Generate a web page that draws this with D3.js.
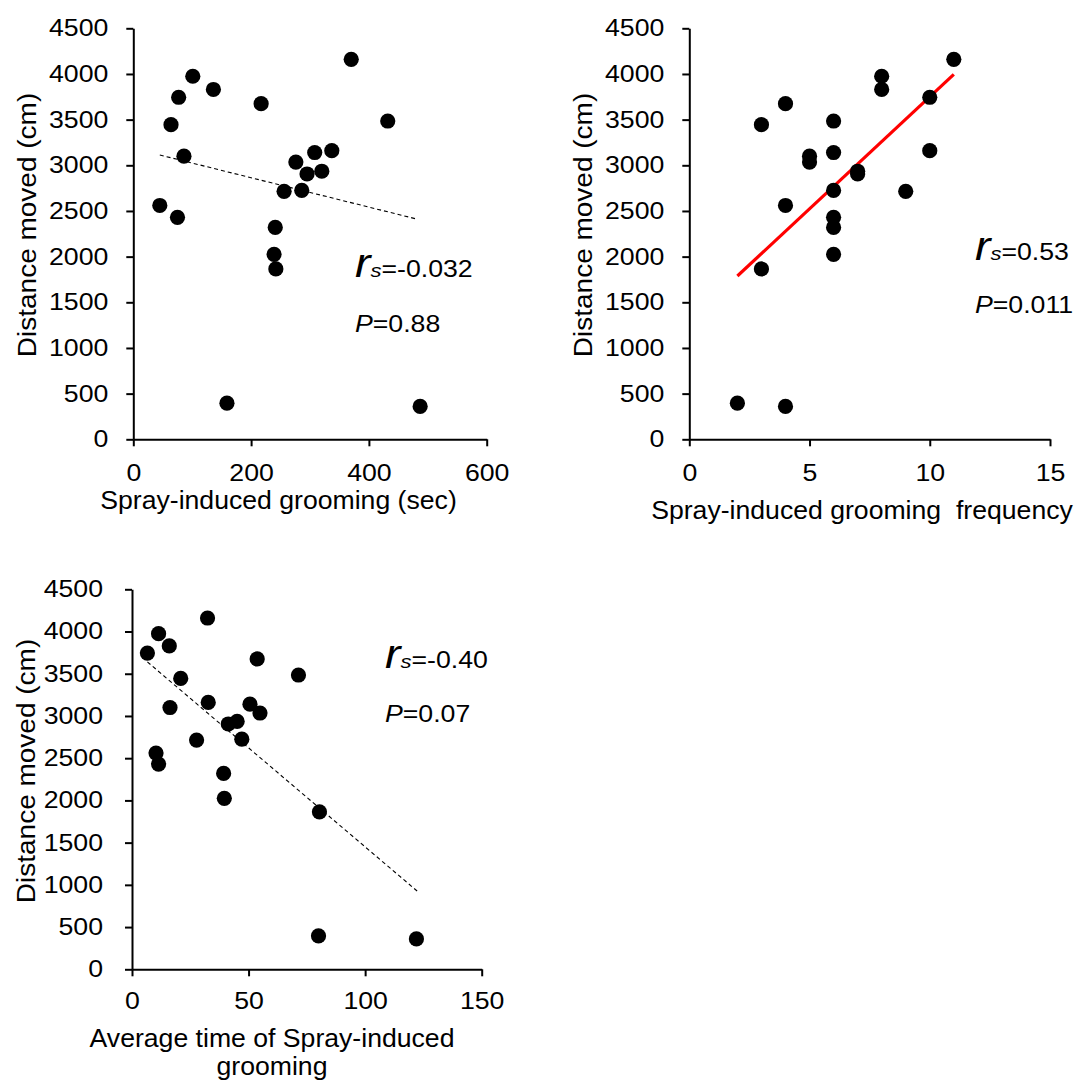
<!DOCTYPE html>
<html><head><meta charset="utf-8">
<script src="https://cdn.jsdelivr.net/npm/d3@7"></script>
<style>
body{margin:0;background:#fff}
svg{display:block}
text{font-family:"Liberation Sans",Arial,Helvetica,sans-serif;fill:#000}
</style>
</head><body>
<svg id="chart" width="1077" height="1083"></svg>
<script>
// ---- data ----
const distanceMoved   = [4160,3975,3830,3745,3675,3445,3485,3100,3160,3140,3035,2935,2905,2715,2725,2560,2430,2320,2025,1865,395,360];
const groomingSec     = [370,101,136,77,217,64,432,86,337,308,276,320,295,256,286,45,75,241,239,242,159,487];
const groomingFreq    = [11,8,8,10,4,3,6,5,10,6,5,7,7,9,6,4,6,6,6,3,2,4];
const avgGroomingTime = [32.4,11.4,16,6.6,53.7,20.9,71.4,16.3,32.7,50.6,54.9,45.1,41.3,27.7,47.1,10.3,11.4,39.3,39.6,80.4,80,122];

const yTicks  = [0,500,1000,1500,2000,2500,3000,3500,4000,4500];
const xTicks1 = [0,200,400,600];
const xTicks2 = [0,5,10,15];
const xTicks3 = [0,50,100,150];

const trend1X = [45,481],  trend1Y = [3113,2412];
const trend2X = [2,11],    trend2Y = [1788,3996];
const trend3X = [6.6,122.3], trend3Y = [3640,927];

const yTitle = "Distance moved (cm)";
const xTitles = [["Spray-induced grooming (sec)"],["Spray-induced grooming\u00a0 frequency"],["Average time of Spray-induced","grooming"]];
const rsLabels = ["=-0.032","=0.53","=-0.40"];
const pLabels  = ["=0.88","=0.011","=0.07"];

// ---- layout ----
const SX = 1.16;      // horizontal text stretch seen in the reference
const XTSX = 1.065;
const YTSX = 1.12;
const panels = [
  {xs:groomingSec, xt:xTicks1, tx:trend1X, ty:trend1Y, dash:true,  color:"#000", L:133.3, R:486.7, T:28.3, B:439.3,
   titleX:278.5, titleY:[509], yTitleX:36, yTitleY:225, annX:355, rsY:276.7, pY:331.7, tickFs:23, yPad:25, xPad:18},
  {xs:groomingFreq, xt:xTicks2, tx:trend2X, ty:trend2Y, dash:false, color:"#ff0000", L:689.3, R:1050, T:28.3, B:439.3,
   titleX:862, titleY:[519], yTitleX:592, yTitleY:225, annX:975, rsY:260, pY:312.5, tickFs:23, yPad:25, xPad:18},
  {xs:avgGroomingTime, xt:xTicks3, tx:trend3X, ty:trend3Y, dash:true, color:"#000", L:132, R:481.7, T:589.3, B:969.3,
   titleX:272, titleY:[1047,1075], yTitleX:35, yTitleY:771, annX:385, rsY:668.3, pY:721.7, tickFs:23, yPad:29, xPad:16}
];

const svg = d3.select("#chart");
const fmt = d3.format("d");

panels.forEach((p,i)=>{
  const g = svg.append("g");
  const x = d3.scaleLinear().domain([0, d3.max(p.xt)]).range([p.L, p.R]);
  const y = d3.scaleLinear().domain([0, 4500]).range([p.B, p.T]);

  const xa = g.append("g").attr("transform",`translate(0,${p.B})`)
    .call(d3.axisBottom(x).tickValues(p.xt).tickFormat(fmt).tickSize(7).tickSizeOuter(0).tickPadding(p.xPad));
  const ya = g.append("g").attr("transform",`translate(${p.L},0)`)
    .call(d3.axisLeft(y).tickValues(yTicks).tickFormat(fmt).tickSize(7).tickSizeOuter(0));

  [xa,ya].forEach(a=>{
    a.select(".domain").attr("stroke","#000").attr("stroke-width",2);
    a.selectAll(".tick line").attr("stroke","#000").attr("stroke-width",2);
    a.selectAll("text").attr("font-size",p.tickFs).attr("font-family",null).attr("fill","#000");
  });
  xa.selectAll("text").attr("transform",`scale(${SX},1)`);
  ya.selectAll("text").attr("x",-p.yPad/SX).attr("transform",`scale(${SX},1)`);

  // trend line
  g.append("line")
    .attr("x1",x(p.tx[0])).attr("y1",y(p.ty[0]))
    .attr("x2",x(p.tx[1])).attr("y2",y(p.ty[1]))
    .attr("stroke",p.color)
    .attr("stroke-width",p.dash?1.1:3.2)
    .attr("stroke-dasharray",p.dash?"4,3":null);

  // points
  g.selectAll("circle").data(distanceMoved).join("circle")
    .attr("cx",(d,k)=>x(p.xs[k])).attr("cy",d=>y(d)).attr("r",7.6).attr("fill","#000");

  // axis titles
  p.titleY.forEach((ty,k)=>{
    g.append("text").attr("transform",`translate(${p.titleX},${ty}) scale(${XTSX},1)`)
      .attr("text-anchor","middle").attr("font-size",25).text(xTitles[i][k]);
  });
  g.append("text").attr("transform",`translate(${p.yTitleX},${p.yTitleY}) rotate(-90) scale(${YTSX},1)`)
    .attr("text-anchor","middle").attr("font-size",25).text(yTitle);

  // statistics
  const rs = g.append("text").attr("transform",`translate(${p.annX},${p.rsY}) scale(${SX},1)`);
  rs.append("tspan").attr("font-style","italic").attr("font-size",40).text("r");
  rs.append("tspan").attr("font-style","italic").attr("font-size",19).text("s");
  rs.append("tspan").attr("font-size",23).text(rsLabels[i]);
  const pt = g.append("text").attr("transform",`translate(${p.annX},${p.pY}) scale(${SX},1)`);
  pt.append("tspan").attr("font-style","italic").attr("font-size",23).text("P");
  pt.append("tspan").attr("font-size",23).text(pLabels[i]);
});
</script>
</body></html>
